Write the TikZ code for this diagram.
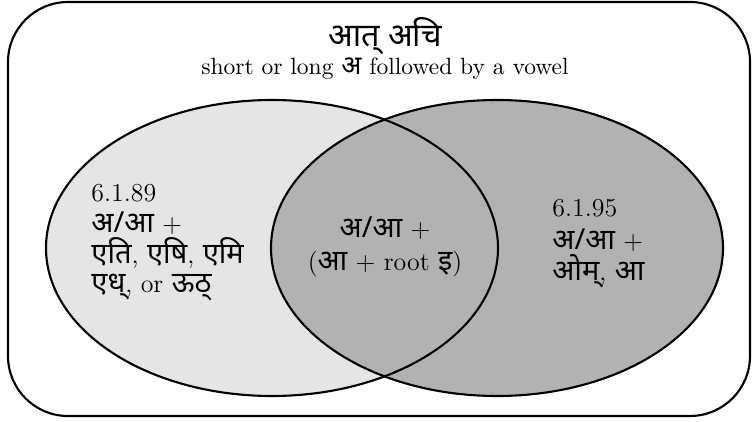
\documentclass[tikz,border=0pt]{standalone}
\usepackage{fontspec}
\newfontfamily\deva[Script=Devanagari,Scale=1.12]{Noto Sans}
\newcommand{\dv}[1]{{\deva #1}}
\begin{document}
\begin{tikzpicture}[x=0.425pt,y=-0.425pt,
  outline/.style={draw=black,line width=0.9pt},
  txt/.style={inner sep=0pt,anchor=base west,font=\fontsize{11}{13}\selectfont},
  ctxt/.style={inner sep=0pt,anchor=base,font=\fontsize{11}{13}\selectfont}]
\useasboundingbox (0,0) rectangle (752,422);
\draw[outline,rounded corners=25.5pt] (8,2) rectangle (750,416);
\fill[gray!20] (272,248) ellipse [x radius=226, y radius=148];
\fill[gray!60] (497,248) ellipse [x radius=226, y radius=148];
\draw[outline] (272,248) ellipse [x radius=226, y radius=148];
\draw[outline] (497,248) ellipse [x radius=226, y radius=148];
\node[ctxt,font=\fontsize{12.3}{14}\selectfont] (title) at (385,47) {\dv{आत् अचि}};
\node[ctxt,font=\fontsize{10}{12}\selectfont] (sub) at (385,75) {short or long \dv{अ} followed by a vowel};
\node[txt] (l1) at (91,201) {6.1.89};
\node[txt] (l2) at (91,233) {\dv{अ/आ} +};
\node[txt] (l3) at (91,264) {\dv{एति}, \dv{एषि}, \dv{एमि}};
\node[txt] (l4) at (91,293) {\dv{एध्}, or \dv{ऊठ्}};
\node[ctxt] (m1) at (385,237) {\dv{अ/आ} +};
\node[ctxt] (m2) at (385,270) {(\dv{आ} + root \dv{इ})};
\node[txt] (r1) at (552,217) {6.1.95};
\node[txt] (r2) at (552,250) {\dv{अ/आ} +};
\node[txt] (r3) at (552,280) {\dv{ओम्}, \dv{आ}};
\end{tikzpicture}
\end{document}
